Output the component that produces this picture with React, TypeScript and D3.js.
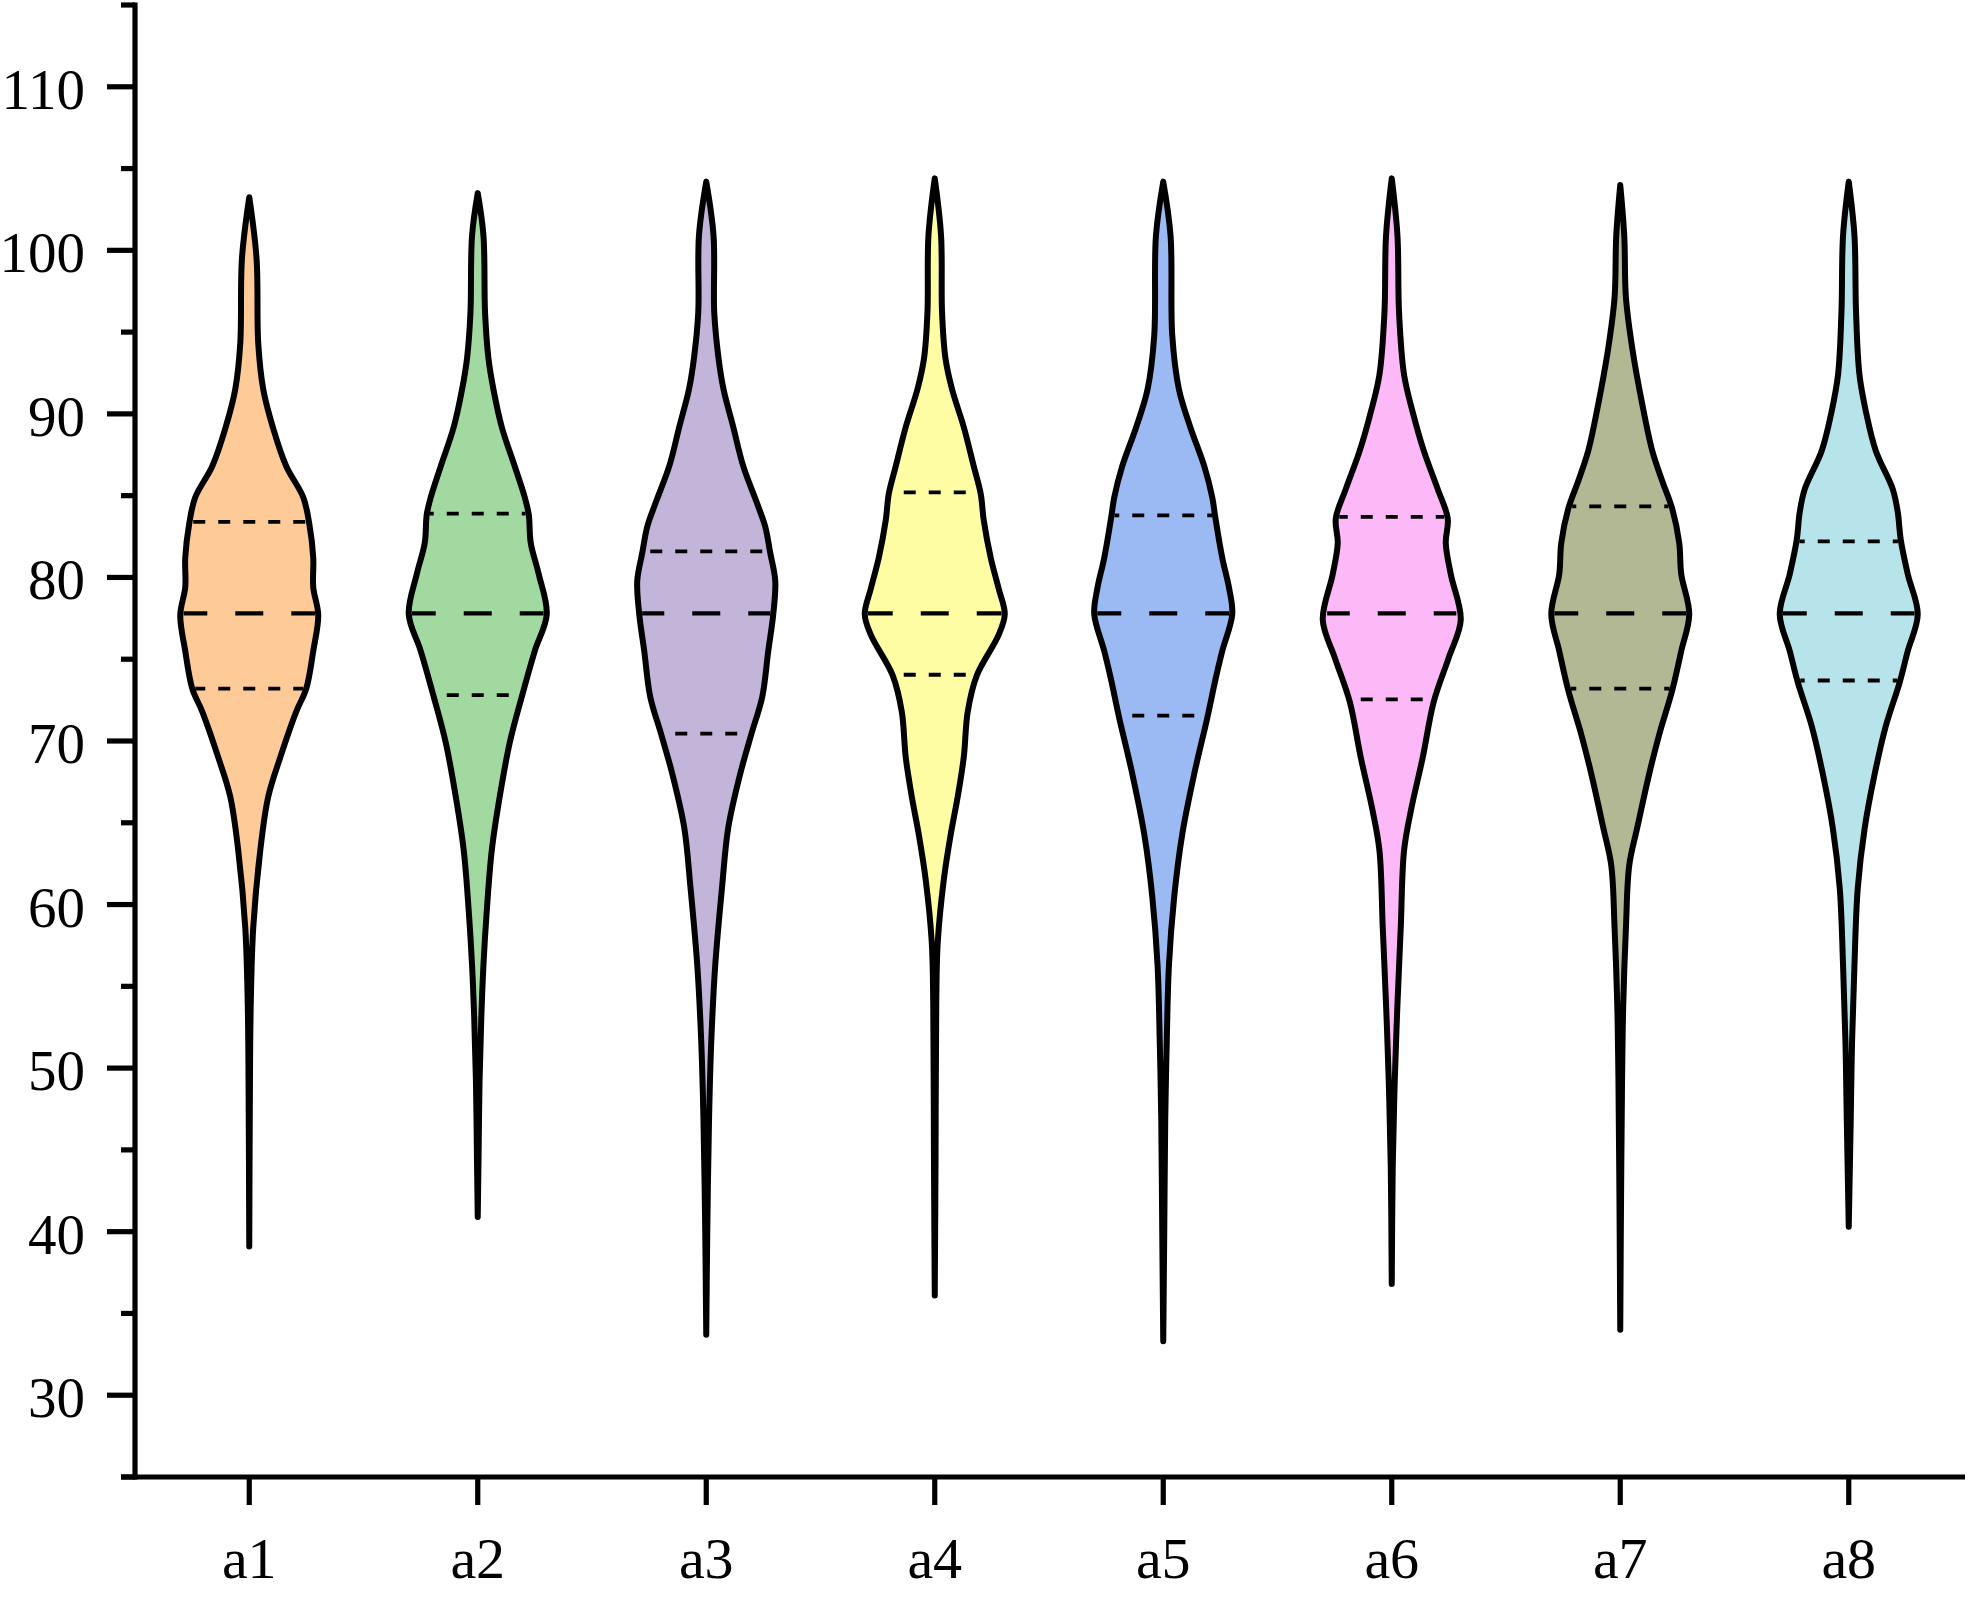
import React from 'react';
import * as d3 from 'd3';

const categories = ['a1', 'a2', 'a3', 'a4', 'a5', 'a6', 'a7', 'a8'];
const fillColors = ['#FDCA98', '#A2D9A0', '#C3B4D9', '#FEFDA4', '#9BBAF3', '#FDB8F8', '#B1B893', '#B6E4EA'];
const medians = [77.8, 77.8, 77.8, 77.8, 77.8, 77.8, 77.8, 77.8];
const lowerQuartiles = [73.2, 72.8, 70.45, 74.05, 71.55, 72.55, 73.2, 73.7];
const upperQuartiles = [83.4, 83.9, 81.6, 85.2, 83.8, 83.7, 84.35, 82.2];
const majorTicks = [30, 40, 50, 60, 70, 80, 90, 100, 110];
const minorTicks = [25, 35, 45, 55, 65, 75, 85, 95, 105, 115];

// density profiles: [value, density]
const a1Profile = [[103.25, 0], [99.5, 0.073], [94.3, 0.09], [91.5, 0.14], [89.1, 0.24], [86.8, 0.37], [84.9, 0.54], [83.3, 0.6], [81.2, 0.64], [79.4, 0.64], [77.7, 0.69], [75.5, 0.64], [73.2, 0.57], [71.8, 0.47], [69.0, 0.31], [66.6, 0.19], [63.3, 0.11], [58.6, 0.04], [53.9, 0.015], [49.2, 0.007], [39.1, 0]];
const a2Profile = [[103.5, 0], [100.9, 0.057], [96.2, 0.073], [93.4, 0.107], [91.5, 0.157], [89.2, 0.24], [86.8, 0.37], [84.9, 0.47], [83.85, 0.51], [82.1, 0.53], [80.2, 0.61], [77.75, 0.69], [75.5, 0.57], [72.7, 0.44], [69.9, 0.32], [66.6, 0.22], [63.3, 0.14], [59.6, 0.09], [56.3, 0.057], [53.0, 0.035], [49.2, 0.018], [44.5, 0.008], [40.9, 0]];
const a3Profile = [[104.2, 0], [100.9, 0.073], [96.2, 0.08], [93.4, 0.123], [91.5, 0.173], [89.2, 0.27], [86.8, 0.37], [84.5, 0.51], [83.1, 0.59], [81.5, 0.64], [79.8, 0.69], [77.75, 0.67], [75.5, 0.62], [72.7, 0.56], [70.4, 0.45], [68.0, 0.34], [64.7, 0.22], [61.0, 0.157], [56.3, 0.09], [51.6, 0.05], [46.9, 0.028], [39.9, 0.01], [33.7, 0]];
const a4Profile = [[104.4, 0], [100.9, 0.063], [96.2, 0.073], [93.4, 0.107], [91.5, 0.173], [89.2, 0.29], [86.8, 0.39], [85.1, 0.46], [83.5, 0.49], [81.2, 0.56], [79.3, 0.64], [77.75, 0.7], [76.5, 0.64], [74.0, 0.42], [71.8, 0.33], [69.0, 0.29], [66.6, 0.23], [64.3, 0.16], [61.5, 0.09], [57.7, 0.03], [53.9, 0.015], [44.5, 0.008], [36.1, 0]];
const a5Profile = [[104.2, 0], [100.9, 0.073], [94.8, 0.09], [91.5, 0.157], [89.2, 0.27], [86.8, 0.41], [84.9, 0.49], [83.7, 0.52], [81.2, 0.59], [79.3, 0.66], [77.75, 0.69], [75.5, 0.59], [73.7, 0.52], [71.4, 0.44], [68.0, 0.31], [64.3, 0.19], [60.5, 0.11], [56.3, 0.057], [51.6, 0.035], [46.9, 0.02], [39.9, 0.01], [33.3, 0]];
const a6Profile = [[104.4, 0], [100.9, 0.057], [96.2, 0.073], [92.4, 0.123], [90.1, 0.21], [87.75, 0.32], [85.4, 0.46], [83.6, 0.56], [82.1, 0.54], [80.2, 0.59], [77.4, 0.69], [75.1, 0.57], [72.4, 0.42], [69.0, 0.31], [65.7, 0.19], [63.3, 0.123], [58.6, 0.09], [53.9, 0.057], [49.2, 0.03], [44.0, 0.01], [36.8, 0]];
const a7Profile = [[104.0, 0], [100.9, 0.04], [97.1, 0.057], [93.9, 0.123], [90.6, 0.22], [87.75, 0.32], [85.9, 0.42], [84.2, 0.52], [82.1, 0.59], [80.2, 0.61], [77.75, 0.69], [75.5, 0.61], [73.1, 0.52], [70.4, 0.39], [68.0, 0.29], [64.7, 0.17], [62.4, 0.09], [58.6, 0.057], [53.9, 0.03], [49.2, 0.018], [42.0, 0.008], [34.0, 0]];
const a8Profile = [[104.2, 0], [100.9, 0.057], [96.2, 0.073], [92.4, 0.107], [90.1, 0.173], [87.75, 0.27], [85.4, 0.44], [84.0, 0.49], [82.3, 0.52], [80.2, 0.59], [77.75, 0.69], [75.5, 0.59], [73.6, 0.51], [70.9, 0.37], [68.0, 0.26], [64.7, 0.16], [61.0, 0.09], [56.3, 0.057], [51.6, 0.033], [46.9, 0.02], [40.3, 0]];
const profiles = [a1Profile, a2Profile, a3Profile, a4Profile, a5Profile, a6Profile, a7Profile, a8Profile];

const W = 1969;
const H = 1603;
const FONT = '"Liberation Serif", "Times New Roman", serif';

export default function App() {
  const y = d3.scaleLinear().domain([25, 115]).range([1477, 5]);
  const x = d3.scalePoint<string>().domain(categories).range([135, 1963]).padding(0.5);
  const w = d3.scaleLinear().domain([0, 1]).range([0, 100]);

  const violins = categories.map((c, i) => {
    const cx = x(c) as number;
    const prof = profiles[i];
    const area = d3
      .area<number[]>()
      .y((d) => y(d[0]))
      .x0((d) => cx - w(d[1]))
      .x1((d) => cx + w(d[1]))
      .curve(d3.curveCatmullRom.alpha(0.5));
    const interp = d3
      .scaleLinear()
      .domain(prof.map((p) => p[0]))
      .range(prof.map((p) => p[1]));
    const line = (v: number, type: 'med' | 'q') => {
      const hw = w(interp(v)) - 3;
      const L = 2 * hw;
      const dash = type === 'med' ? 28 : 12;
      const gap = type === 'med' ? 28 : 13;
      const P = dash + gap;
      const off = (((dash / 2 - L / 2) % P) + P) % P;
      return (
        <line
          key={type + v}
          x1={cx - hw}
          x2={cx + hw}
          y1={y(v)}
          y2={y(v)}
          stroke="#000"
          strokeWidth={type === 'med' ? 4.2 : 3.8}
          strokeDasharray={`${dash},${gap}`}
          strokeDashoffset={off}
        />
      );
    };
    return (
      <g key={c}>
        <path d={area(prof) || ''} fill={fillColors[i]} stroke="#000" strokeWidth={6} strokeLinejoin="round" />
        {line(upperQuartiles[i], 'q')}
        {line(medians[i], 'med')}
        {line(lowerQuartiles[i], 'q')}
      </g>
    );
  });

  return (
    <svg width={W} height={H} style={{ position: 'absolute', left: 0, top: 0, background: '#fff' }}>
      <rect x={0} y={0} width={W} height={H} fill="#fff" />
      {violins}
      {/* y axis */}
      <line x1={135} x2={135} y1={y(115) - 2.5} y2={y(25) + 2.5} stroke="#000" strokeWidth={5.2} />
      {majorTicks.map((t) => (
        <g key={'M' + t}>
          <line x1={107} x2={135} y1={y(t)} y2={y(t)} stroke="#000" strokeWidth={5.2} />
          <text x={85} y={y(t) + 22} textAnchor="end" fontFamily={FONT} fontSize={57} fill="#000">
            {t}
          </text>
        </g>
      ))}
      {minorTicks.map((t) => (
        <line key={'m' + t} x1={121} x2={135} y1={y(t)} y2={y(t)} stroke="#000" strokeWidth={5.2} />
      ))}
      {/* x axis */}
      <line x1={121} x2={1965} y1={y(25)} y2={y(25)} stroke="#000" strokeWidth={5.2} />
      {categories.map((c) => (
        <g key={'x' + c}>
          <line x1={x(c)} x2={x(c)} y1={y(25)} y2={y(25) + 28} stroke="#000" strokeWidth={5.2} />
          <text x={x(c)} y={1578} textAnchor="middle" fontFamily={FONT} fontSize={58} fill="#000">
            {c}
          </text>
        </g>
      ))}
    </svg>
  );
}
